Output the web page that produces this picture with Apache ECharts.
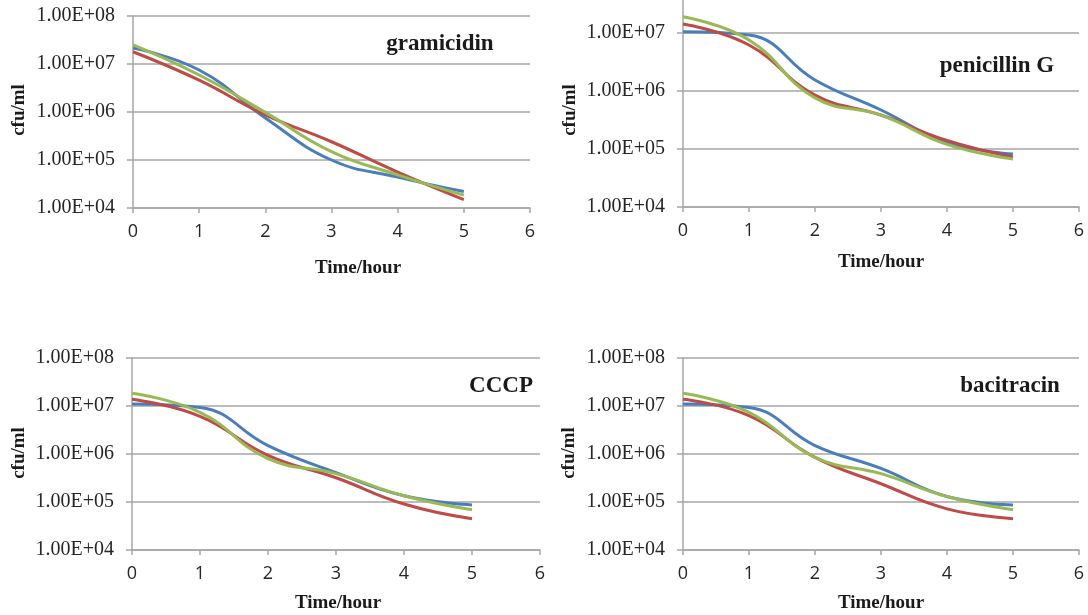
<!DOCTYPE html>
<html>
<head>
<meta charset="utf-8">
<script src="https://cdn.jsdelivr.net/npm/echarts@6/dist/echarts.min.js"></script>
<style>
html,body{margin:0;padding:0;background:#fff;overflow:hidden;width:1088px;height:615px;position:relative;}
#chart{position:absolute;left:0;top:-25px;width:1088px;height:640px;}
</style>
</head>
<body>
<div id="chart"></div>
<script>
// ---- data ----
const timeHours = [0, 1, 2, 3, 4, 5];
const xTickMax = 6;
const yTickMin = 1e4;
const yTickMax = 1e8;

const panelTitles = ['gramicidin', 'penicillin G', 'CCCP', 'bacitracin'];

const gramicidinBlue  = [2.15e7, 7.5e6, 7.5e5, 1.0e5, 4.4e4, 2.2e4];
const gramicidinRed   = [1.8e7, 4.6e6, 8.7e5, 2.4e5, 5.6e4, 1.5e4];
const gramicidinGreen = [2.5e7, 5.9e6, 9.8e5, 1.5e5, 4.9e4, 1.85e4];

const penicillinBlue  = [1.05e7, 9.2e6, 1.55e6, 4.7e5, 1.3e5, 8.2e4];
const penicillinRed   = [1.43e7, 6.2e6, 8.5e5, 3.85e5, 1.4e5, 7.3e4];
const penicillinGreen = [1.9e7, 7.6e6, 7.6e5, 3.85e5, 1.2e5, 6.7e4];

const cccpBlue  = [1.1e7, 9.3e6, 1.5e6, 4.1e5, 1.35e5, 8.7e4];
const cccpRed   = [1.38e7, 6.1e6, 9.4e5, 3.2e5, 9.1e4, 4.5e4];
const cccpGreen = [1.85e7, 7.4e6, 8.0e5, 3.9e5, 1.35e5, 6.9e4];

const bacitracinBlue  = [1.1e7, 9.3e6, 1.5e6, 5.0e5, 1.3e5, 8.7e4];
const bacitracinRed   = [1.38e7, 6.3e6, 8.5e5, 2.4e5, 7.2e4, 4.5e4];
const bacitracinGreen = [1.85e7, 7.4e6, 8.5e5, 3.9e5, 1.3e5, 6.9e4];

const panelSeries = [
  [gramicidinBlue, gramicidinRed, gramicidinGreen],
  [penicillinBlue, penicillinRed, penicillinGreen],
  [cccpBlue, cccpRed, cccpGreen],
  [bacitracinBlue, bacitracinRed, bacitracinGreen]
];

// ---- layout / style (chart canvas is shifted 25px up; add OFF to page y) ----
const OFF = 25;
const lineColors = ['#4a7ebb', '#be4b48', '#98b954'];
const grids = [
  {left: 133, top: 16 + OFF,  width: 397, height: 192},
  {left: 683, top: -25 + OFF, width: 396, height: 232},
  {left: 132, top: 358 + OFF, width: 408, height: 192},
  {left: 683, top: 358 + OFF, width: 396, height: 192}
];
const titlePos = [[440, 44], [997, 66], [501, 386], [1010, 386]];
const xNamePos = [[358, 268], [881, 262], [338, 603], [881, 603]];
const yNamePos = [[19, 110], [570, 110], [19, 453], [569, 453]];

const serif = '"Liberation Serif", "Times New Roman", serif';
const gridGray = '#a6a6a6';
const textColor = '#262626';

function fmtY(v) {
  const e = Math.round(Math.log10(v));
  return '1.00E+' + String(e).padStart(2, '0');
}

const option = {
  backgroundColor: '#ffffff',
  animation: false,
  grid: grids.map(g => Object.assign({containLabel: false, outerBoundsMode: 'none'}, g)),
  xAxis: grids.map((g, i) => ({
    type: 'value', gridIndex: i, min: 0, max: xTickMax, interval: 1,
    axisLine: {show: true, lineStyle: {color: gridGray, width: 1.5}},
    axisTick: {show: true, length: 5, lineStyle: {color: gridGray, width: 1.5}},
    splitLine: {show: false},
    axisLabel: {color: textColor, fontFamily: '"Open Sans", "Liberation Sans", sans-serif', fontSize: 18, margin: 15}
  })),
  yAxis: grids.map((g, i) => ({
    type: 'log', logBase: 10, gridIndex: i, min: yTickMin, max: yTickMax,
    axisLine: {show: true, lineStyle: {color: gridGray, width: 1.5}},
    axisTick: {show: true, length: 6, lineStyle: {color: gridGray, width: 1.5}},
    splitLine: {show: true, lineStyle: {color: gridGray, width: 1.5}},
    minorTick: {show: false},
    axisLabel: {color: textColor, fontFamily: serif, fontSize: 20, margin: 18, formatter: fmtY}
  })),
  series: [],
  graphic: []
};

panelSeries.forEach((group, p) => {
  group.forEach((vals, s) => {
    option.series.push({
      type: 'line', xAxisIndex: p, yAxisIndex: p,
      name: 'series' + (s + 1),
      data: timeHours.map((t, k) => [t, vals[k]]),
      smooth: 0.45, showSymbol: false, symbol: 'none',
      lineStyle: {color: lineColors[s], width: 3},
      itemStyle: {color: lineColors[s]},
      z: 2 + s
    });
  });
  option.graphic.push({
    type: 'text', x: titlePos[p][0], y: titlePos[p][1] + OFF,
    style: {text: panelTitles[p], font: 'bold 23px ' + serif, fill: '#1a1a1a', textAlign: 'center', textVerticalAlign: 'middle'}
  });
  option.graphic.push({
    type: 'text', x: xNamePos[p][0], y: xNamePos[p][1] + OFF,
    style: {text: 'Time/hour', font: 'bold 19px ' + serif, fill: '#1a1a1a', textAlign: 'center', textVerticalAlign: 'middle'}
  });
  option.graphic.push({
    type: 'text', x: yNamePos[p][0], y: yNamePos[p][1] + OFF, rotation: Math.PI / 2,
    style: {text: 'cfu/ml', font: 'bold 19px ' + serif, fill: '#1a1a1a', textAlign: 'center', textVerticalAlign: 'middle'}
  });
});

const chart = echarts.init(document.getElementById('chart'), null, {renderer: 'canvas'});
chart.setOption(option);
</script>
</body>
</html>
